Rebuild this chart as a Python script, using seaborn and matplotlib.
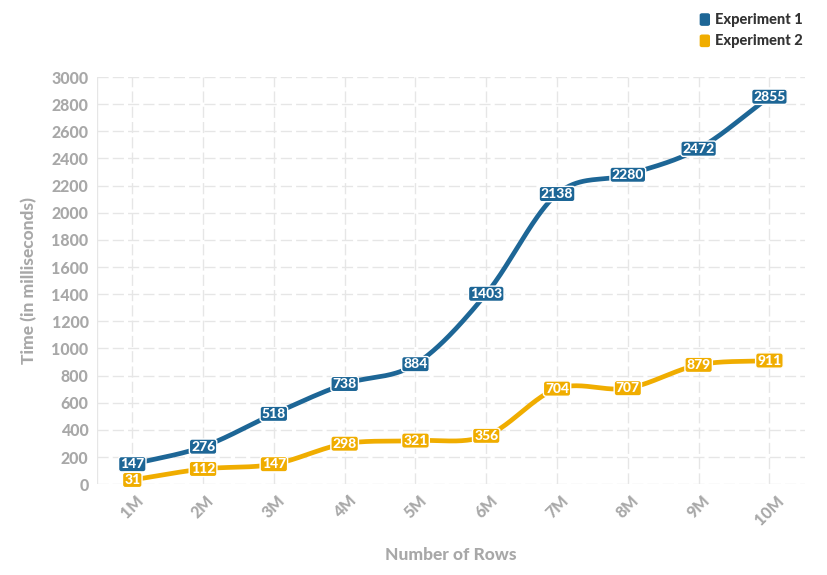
import numpy as np
import pandas as pd
import matplotlib
matplotlib.use("Agg")
import matplotlib.pyplot as plt
from matplotlib.patches import FancyBboxPatch
import seaborn as sns

rows = ["1M", "2M", "3M", "4M", "5M", "6M", "7M", "8M", "9M", "10M"]
experiment_1 = [147, 276, 518, 738, 884, 1403, 2138, 2280, 2472, 2855]
experiment_2 = [31, 112, 147, 298, 321, 356, 704, 707, 879, 911]
y_ticks = list(range(0, 3001, 200))

BLUE = "#1d6696"
YELLOW = "#f0ad00"
GRAY = "#a8a8a8"


def smooth_curve(y, n=40):
    # cardinal (Catmull-Rom) spline, only to draw a smooth path between points
    y = np.asarray(y, float)
    x = np.arange(len(y), dtype=float)
    m = np.zeros_like(y)
    m[1:-1] = (y[2:] - y[:-2]) / 2
    m[0] = y[1] - y[0]
    m[-1] = y[-1] - y[-2]
    xs, ys = [], []
    for i in range(len(y) - 1):
        t = np.linspace(0, 1, n, endpoint=False)
        h00 = 2 * t**3 - 3 * t**2 + 1
        h10 = t**3 - 2 * t**2 + t
        h01 = -2 * t**3 + 3 * t**2
        h11 = t**3 - t**2
        xs.append(x[i] + t)
        ys.append(h00 * y[i] + h10 * m[i] + h01 * y[i + 1] + h11 * m[i + 1])
    xs.append([x[-1]])
    ys.append([y[-1]])
    return np.concatenate(xs), np.concatenate(ys)


sns.set_theme(style="white")
plt.rcParams["font.family"] = ["Lato", "DejaVu Sans"]

fig = plt.figure(figsize=(8.28, 5.75), dpi=100)
ax = fig.add_axes([0.117, 0.158, 0.855, 0.708])

frames = []
for name, vals in [("Experiment 1", experiment_1), ("Experiment 2", experiment_2)]:
    xs, ys = smooth_curve(vals)
    frames.append(pd.DataFrame({"x": xs, "y": ys, "series": name}))
curves = pd.concat(frames)

sns.lineplot(data=curves, x="x", y="y", hue="series",
             palette=[BLUE, YELLOW], linewidth=3.4, legend=False, ax=ax,
             sort=False, zorder=3)

for vals, color in [(experiment_1, BLUE), (experiment_2, YELLOW)]:
    for i, v in enumerate(vals):
        ax.text(i, v, str(v), ha="center", va="center", color="white",
                fontsize=10, fontweight="black", zorder=5,
                bbox=dict(boxstyle="round,pad=0.12,rounding_size=0.2",
                          fc=color, ec="white", lw=1.0))

ax.set_xlim(-0.5, len(rows) - 0.5)
ax.set_ylim(0, 3000)
ax.set_xticks(range(len(rows)))
ax.set_xticklabels(rows, rotation=45, ha="center", va="top",
                   rotation_mode="default")
ax.set_yticks(y_ticks)
ax.tick_params(axis="both", colors=GRAY, labelsize=11.5, length=0, pad=6)
for lbl in ax.get_xticklabels() + ax.get_yticklabels():
    lbl.set_fontweight("black")
    lbl.set_color(GRAY)

ax.grid(True, color="#e6e6e6", linestyle=(0, (8, 3)), linewidth=1)
ax.axvline(-0.5, color="#e6e6e6", linewidth=1)
for s in ax.spines.values():
    s.set_visible(False)

ax.set_xlabel("Number of Rows", fontsize=12.5, fontweight="black", color=GRAY,
              labelpad=14)
ax.set_ylabel("Time (in milliseconds)", fontsize=12.5, fontweight="black",
              color=GRAY, labelpad=10)

# legend in top right corner
for j, (name, color) in enumerate([("Experiment 1", BLUE), ("Experiment 2", YELLOW)]):
    yb = 0.955 - j * 0.037
    fig.patches.append(FancyBboxPatch((0.845, yb), 0.0125, 0.022,
                                      boxstyle="round,pad=0,rounding_size=0.003",
                                      transform=fig.transFigure, fc=color,
                                      ec="none", figure=fig))
    fig.text(0.863, yb + 0.011, name, ha="left", va="center", fontsize=10.5,
             fontweight="black", color="#333333")

fig.savefig("out.png", dpi=100)
